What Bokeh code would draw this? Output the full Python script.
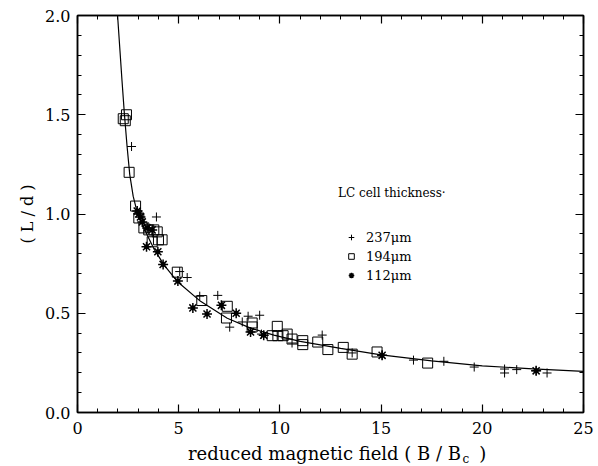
from bokeh.plotting import figure
from bokeh.models import (FixedTicker, LinearAxis, Range1d, Legend, LegendItem,
                          PrintfTickFormatter)
from bokeh.layouts import column
from bokeh.core.properties import value
from bokeh.embed import file_html
from bokeh.resources import INLINE

# ---- data ----
curve_x = [1.98, 2.1, 2.2, 2.32, 2.45, 2.58, 2.75, 2.91, 3.2, 3.46, 3.8, 4.05, 4.26,
           4.93, 6.08, 7.4, 8.55, 9.7, 11.0, 13.0, 15.0, 17.5, 20.0, 22.5, 25.0]
curve_y = [2.0, 1.82, 1.67, 1.50, 1.34, 1.20, 1.09, 1.025, 0.95, 0.89, 0.82, 0.78, 0.745,
           0.66, 0.56, 0.475, 0.425, 0.39, 0.358, 0.323, 0.29, 0.26, 0.235, 0.22, 0.207]

p237_x = [2.67, 3.9, 5.05, 5.42, 6.04, 6.93, 7.52, 8.14, 8.43, 9.0, 9.09, 10.6, 12.09,
          13.57, 15.05, 16.6, 18.1, 19.6, 21.1, 21.1, 21.7, 22.66, 23.2]
p237_y = [1.34, 0.985, 0.71, 0.68, 0.586, 0.59, 0.43, 0.456, 0.485, 0.49, 0.395, 0.35, 0.39,
          0.30, 0.288, 0.264, 0.258, 0.229, 0.219, 0.199, 0.216, 0.21, 0.199]

s194_x = [2.26, 2.42, 2.36, 2.55, 2.87, 3.03, 3.28, 3.52, 3.77, 3.94, 3.69, 4.0, 4.18,
          4.93, 6.14, 7.40, 7.36, 8.63, 8.63, 9.87, 9.62, 9.9, 10.16, 10.36, 10.6, 11.13,
          11.13, 11.87, 12.37, 13.13, 13.57, 14.8, 17.3]
s194_y = [1.48, 1.50, 1.47, 1.21, 1.04, 0.98, 0.93, 0.92, 0.92, 0.91, 0.86, 0.87, 0.87,
          0.707, 0.564, 0.535, 0.476, 0.451, 0.431, 0.434, 0.387, 0.387, 0.387, 0.395, 0.37,
          0.362, 0.342, 0.355, 0.317, 0.328, 0.294, 0.305, 0.249]

a112_x = [2.95, 3.03, 3.11, 3.2, 3.44, 3.69, 3.41, 3.97, 4.23, 4.96, 5.7, 6.4, 7.11, 7.84,
          8.55, 9.2, 15.05, 22.66]
a112_y = [1.015, 1.0, 0.985, 0.96, 0.93, 0.92, 0.835, 0.81, 0.746, 0.662, 0.527, 0.496,
          0.54, 0.50, 0.406, 0.389, 0.288, 0.21]

x_major = [0, 5, 10, 15, 20, 25]
x_minor = [i for i in range(0, 26)]
y_major = [0.0, 0.5, 1.0, 1.5, 2.0]
y_minor = [round(i * 0.1, 1) for i in range(0, 21)]

series_labels = ["237\u03bcm", "194\u03bcm", "112\u03bcm"]
legend_title = "LC cell thickness\u00b7"
y_label = "( L / d )"
x_label_main = "reduced magnetic field ( B / B"
x_label_sub = "c"
x_label_end = ")"

FONT = "DejaVu Serif"

p = figure(width=598, height=440, output_backend="svg", toolbar_location=None,
           x_range=Range1d(0, 25), y_range=Range1d(0, 2.0),
           min_border_left=77, min_border_right=15, min_border_top=15, min_border_bottom=28)
p.xgrid.visible = False
p.ygrid.visible = False
p.outline_line_color = "black"
p.outline_line_width = 1.5
p.background_fill_color = "white"
p.border_fill_color = "white"

xt = FixedTicker(ticks=x_major, minor_ticks=x_minor)
yt = FixedTicker(ticks=y_major, minor_ticks=y_minor)

def style(ax):
    ax.major_tick_in = 8
    ax.major_tick_out = 0
    ax.minor_tick_in = 4
    ax.minor_tick_out = 0
    ax.axis_line_width = 1.5
    ax.major_tick_line_width = 1.2
    ax.minor_tick_line_width = 1
    ax.major_label_text_font = FONT
    ax.major_label_text_font_size = "16px"
    ax.major_label_text_color = "black"

xa = p.xaxis[0]
xa.ticker = xt
xa.formatter = PrintfTickFormatter(format="%d")
style(xa)
xa.major_label_standoff = 9

ya = p.yaxis[0]
ya.ticker = yt
ya.formatter = PrintfTickFormatter(format="%.1f")
style(ya)
ya.major_label_standoff = 7
ya.axis_label = y_label
ya.axis_label_text_font = FONT
ya.axis_label_text_font_style = "normal"
ya.axis_label_text_font_size = "16px"
ya.axis_label_text_color = "black"
ya.axis_label_standoff = 5

top = LinearAxis(ticker=xt, major_label_standoff=0,
                 major_label_overrides={t: "" for t in x_major})
style(top)
p.add_layout(top, "above")
right = LinearAxis(ticker=yt, major_label_standoff=0,
                   major_label_overrides={t: "" for t in y_major})
style(right)
p.add_layout(right, "right")

p.line(curve_x, curve_y, line_color="black", line_width=1.2)
r1 = p.scatter(p237_x, p237_y, marker="cross", size=9, line_color="black", line_width=1)
r2 = p.scatter(s194_x, s194_y, marker="square", size=10, line_color="black",
               fill_color=None, line_width=1)
r3b = p.scatter(a112_x, a112_y, marker="circle", size=4, line_color="black",
                fill_color="black", line_width=1)
r3 = p.scatter(a112_x, a112_y, marker="asterisk", size=10, line_color="black",
               line_width=1.5)

legend = Legend(items=[LegendItem(label=series_labels[0], renderers=[r1]),
                       LegendItem(label=series_labels[1], renderers=[r2]),
                       LegendItem(label=series_labels[2], renderers=[r3])],
                location=(261, 128), title=legend_title,
                title_text_font=FONT, title_text_font_size="12px",
                title_text_font_style="normal", title_text_color="black",
                title_standoff=28,
                label_text_font=FONT, label_text_font_size="13px",
                label_text_color="black",
                glyph_width=26, glyph_height=14, label_standoff=2,
                label_height=18, spacing=1, padding=0, margin=0,
                border_line_color=None, background_fill_alpha=0)
p.add_layout(legend, "center")

# x-axis title strip (with subscript c)
p2 = figure(width=598, height=26, output_backend="svg", toolbar_location=None,
            x_range=p.x_range, y_range=Range1d(0, 1),
            min_border_left=77, min_border_right=15, min_border_top=0, min_border_bottom=0,
            x_axis_location=None, y_axis_location=None)
p2.xgrid.visible = False
p2.ygrid.visible = False
p2.outline_line_color = None
p2.text(x=[18.95], y=[0.5], text=[x_label_main], text_align="right",
        text_baseline="middle", text_font=value(FONT), text_font_size="18px",
        text_color="black")
p2.text(x=[19.02], y=[0.3], text=[x_label_sub], text_align="left",
        text_baseline="middle", text_font=value(FONT), text_font_size="12px",
        text_color="black")
p2.text(x=[19.85], y=[0.5], text=[x_label_end], text_align="left",
        text_baseline="middle", text_font=value(FONT), text_font_size="18px",
        text_color="black")

layout = column(p, p2, spacing=0)
open("out.html", "w").write(file_html(layout, INLINE))
